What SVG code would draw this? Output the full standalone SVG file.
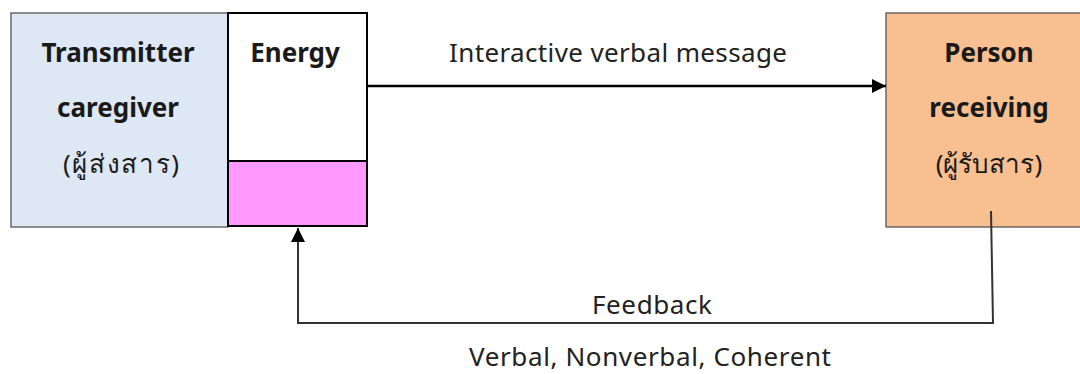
<svg xmlns="http://www.w3.org/2000/svg" width="1080" height="374" viewBox="0 0 1080 374">
<style>
text{font-family:"Noto Sans","DejaVu Sans",sans-serif;font-size:26px;fill:#1a1a1a;text-anchor:middle}
.b{font-weight:bold}
.l{fill:#222}
</style>
<defs>
<marker id="ah" viewBox="0 0 10 10" refX="10" refY="5" markerWidth="16" markerHeight="14" markerUnits="userSpaceOnUse" orient="auto">
<path d="M0,0 L10,5 L0,10 Z" fill="#000"/>
</marker>
</defs>
<rect width="1080" height="374" fill="#fff"/>
<g id="transmitter">
<rect x="11" y="13" width="217" height="214" fill="#DEE8F4" stroke="#555" stroke-width="1.3"/>
<text class="b" x="118" y="62">Transmitter</text>
<text class="b" x="118" y="117">caregiver</text>
<text x="121" y="173" textLength="116">(ผู้ส่งสาร)</text>
</g>
<g id="energy">
<rect x="228" y="13" width="139" height="148" fill="#fff" stroke="#000" stroke-width="2"/>
<rect x="228" y="161" width="139" height="65" fill="#FF99FF" stroke="#000" stroke-width="2"/>
<text class="b" x="295" y="62">Energy</text>
</g>
<g id="receiver">
<rect x="886" y="13" width="206" height="214" fill="#F8C091" stroke="#555" stroke-width="1.3"/>
<text class="b" x="989" y="62">Person</text>
<text class="b" x="989" y="117">receiving</text>
<text x="989" y="173">(ผู้รับสาร)</text>
</g>
<g id="connectors">
<line x1="368" y1="86" x2="886" y2="86" stroke="#000" stroke-width="2.5" marker-end="url(#ah)"/>
<polyline points="991,211 993,323 298,323 298,228" fill="none" stroke="#333" stroke-width="2" marker-end="url(#ah)"/>
</g>
<g id="labels">
<text class="l" x="618" y="62" textLength="338">Interactive verbal message</text>
<text class="l" x="652" y="314" textLength="120">Feedback</text>
<text class="l" x="650" y="366" textLength="362">Verbal, Nonverbal, Coherent</text>
</g>
</svg>
